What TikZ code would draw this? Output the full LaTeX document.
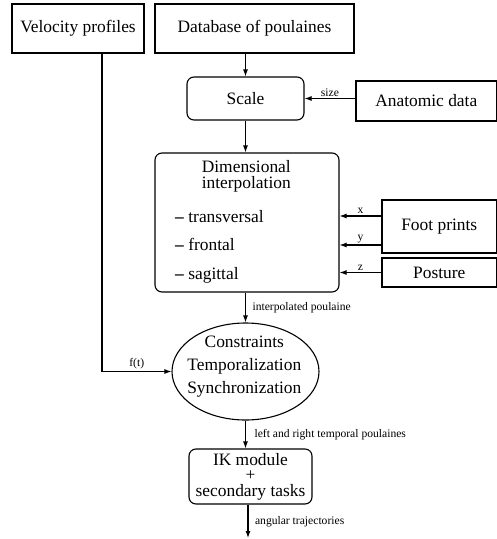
\documentclass[tikz,border=0pt]{standalone}
\usepackage{fontspec}
\setmainfont{Liberation Serif}
\usetikzlibrary{shapes.geometric,arrows.meta,calc}
\begin{document}
\begin{tikzpicture}[x=1pt,y=-1pt,
  box/.style={draw, line width=1.1pt, inner sep=0pt, font=\fontsize{17.4}{21}\selectfont},
  rbox/.style={box, rounded corners=7pt},
  txt/.style={inner sep=0pt, anchor=base, font=\fontsize{17.4}{21}\selectfont},
  lbl/.style={inner sep=1.5pt, font=\fontsize{11.6}{13}\selectfont},
  arr/.style={line width=1.1pt, -{Latex[length=7pt,width=5pt]}}]
\useasboundingbox (0,0) rectangle (497,539);
% boxes
\node[box, minimum width=132, minimum height=49] (vel) at (78,28.5) {Velocity profiles};
\node[box, minimum width=199, minimum height=49] (db) at (254.5,28.5) {Database of poulaines};
\node[rbox, minimum width=117, minimum height=43] (scale) at (245.5,98.5) {Scale};
\node[box, minimum width=140.5, minimum height=40] (anat) at (426.25,101) {Anatomic data};
\node[rbox, minimum width=184, minimum height=139] (dim) at (247,222.5) {};
\node[txt] (dimA) at (246.3,172) {Dimensional};
\node[txt] (dimB) at (246.3,188) {interpolation};
\node[txt, anchor=base west] (it1) at (175,222) {\textbf{–} transversal};
\node[txt, anchor=base west] (it2) at (175,250.5) {\textbf{–} frontal};
\node[txt, anchor=base west] (it3) at (175,279) {\textbf{–} sagittal};
\node[box, minimum width=114.5, minimum height=53] (foot) at (439.25,226.5) {Foot prints};
\node[box, minimum width=114.5, minimum height=29] (post) at (439.25,272.5) {Posture};
\node[draw, ellipse, line width=1.1pt, minimum width=147, minimum height=97, inner sep=0pt] (ell) at (245.5,371.5) {};
\node[txt] (e1) at (244.3,347) {Constraints};
\node[txt] (e2) at (244.3,370) {Temporalization};
\node[txt] (e3) at (244.3,393) {Synchronization};
\node[rbox, minimum width=123, minimum height=55, align=center,
      font=\fontsize{17.4}{15.6}\selectfont] (ik) at (250.5,476.5)
      {IK module\\+\hspace*{14pt}\\secondary tasks};
% connectors
\coordinate (fx) at (0,216);
\coordinate (fy) at (0,245);
\coordinate (vc) at (102,370);
\coordinate (out) at (248,538);
\draw[arr] (scale.north |- db.south) -- (scale.north);
\draw[arr] (anat.west |- scale.east) -- node[lbl, above] {size} (scale.east);
\draw[arr] (scale.south) -- (scale.south |- dim.north);
\draw[arr] (foot.west |- fx) -- node[lbl, above] {x} (dim.east |- fx);
\draw[arr] (foot.west |- fy) -- node[lbl, above] {y} (dim.east |- fy);
\draw[arr] (post.west) -- node[lbl, above] {z} (dim.east |- post.west);
\draw[arr] (dim.south -| ell.north) -- node[lbl, right, xshift=5pt] {interpolated poulaine} (ell.north);
\draw[arr] (vel.south -| vc) |- node[lbl, above, pos=0.75] {f(t)} (ell.west);
\draw[arr] (ell.south) -- node[lbl, right, xshift=7pt] {left and right temporal poulaines} (ell.south |- ik.north);
\draw[arr] (ik.south -| out) -- node[lbl, right, xshift=5pt] {angular trajectories} (out);
\end{tikzpicture}
\end{document}
